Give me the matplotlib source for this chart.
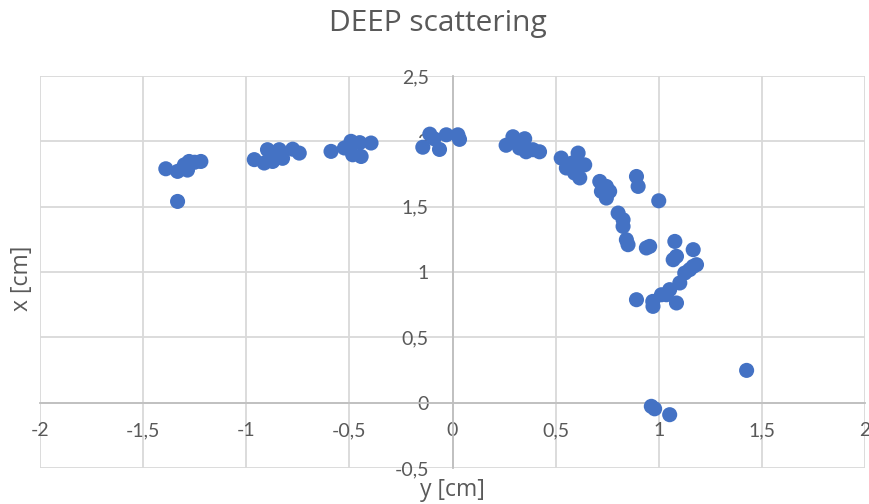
import matplotlib
matplotlib.use('Agg')
import matplotlib.pyplot as plt
from matplotlib.ticker import FuncFormatter, MultipleLocator

plt.rcParams['font.family'] = ['Lato', 'DejaVu Sans']

# y [cm] (horizontal) and x [cm] (vertical) of every hit
y_cm = [-1.39, -1.333, -1.285, -1.277, -1.22, -1.30, -1.25, -1.333,
        -0.961, -0.913, -0.872, -0.897, -0.84, -0.775, -0.743, -0.824,
        -0.589, -0.524, -0.492, -0.443, -0.395, -0.484, -0.45,
        -0.144, -0.11, -0.063, -0.03, 0.026, 0.034, -0.09,
        0.26, 0.293, 0.35, 0.357, 0.422, 0.325, 0.39,
        0.527, 0.609, 0.641, 0.552, 0.592, 0.617, 0.583,
        0.714, 0.746, 0.762, 0.746, 0.722,
        0.892, 0.9, 1.0,
        0.803, 0.827, 0.827, 0.843, 0.851, 0.94, 0.956,
        1.078, 1.167, 1.07, 1.086, 1.167, 1.183, 1.15, 1.126, 1.102,
        1.053, 1.013, 1.037, 1.086, 0.972, 0.971, 0.892,
        1.426, 0.964, 0.98, 1.053]
x_cm = [1.79, 1.77, 1.78, 1.846, 1.846, 1.82, 1.84, 1.54,
        1.86, 1.834, 1.846, 1.936, 1.936, 1.94, 1.91, 1.87,
        1.923, 1.949, 2.0, 1.884, 1.987, 1.897, 1.99,
        1.955, 2.055, 1.938, 2.05, 2.05, 2.015, 2.02,
        1.97, 2.035, 2.02, 1.92, 1.92, 1.949, 1.936,
        1.872, 1.91, 1.82, 1.796, 1.757, 1.72, 1.836,
        1.693, 1.655, 1.617, 1.566, 1.617,
        1.731, 1.655, 1.545,
        1.451, 1.40, 1.349, 1.247, 1.209, 1.184, 1.196,
        1.234, 1.171, 1.094, 1.12, 1.043, 1.056, 1.018, 0.992, 0.916,
        0.865, 0.826, 0.826, 0.763, 0.737, 0.775, 0.788,
        0.247, -0.028, -0.047, -0.092]

xlim = (-2, 2)
ylim = (-0.5, 2.5)

grey_txt = '#595959'

fig = plt.figure(figsize=(8.69, 5.04), dpi=100)
ax = fig.add_axes([40 / 869, 36 / 504, 825 / 869, 392 / 504])

ax.scatter(y_cm, x_cm, s=118, color='#4472C4', edgecolors='none', zorder=3)

ax.set_xlim(xlim)
ax.set_ylim(ylim)
ax.xaxis.set_major_locator(MultipleLocator(0.5))
ax.yaxis.set_major_locator(MultipleLocator(0.5))

comma = FuncFormatter(lambda v, p: ('%g' % v).replace('.', ','))
ax.xaxis.set_major_formatter(comma)
ax.yaxis.set_major_formatter(comma)

ax.grid(True, color='#d9d9d9', linewidth=1.3, zorder=0)
ax.set_axisbelow(True)

for s in ['top', 'right']:
    ax.spines[s].set_visible(False)
ax.spines['left'].set_position(('data', 0))
ax.spines['bottom'].set_position(('data', 0))
ax.spines['left'].set_color('#bfbfbf')
ax.spines['bottom'].set_color('#bfbfbf')
ax.spines['left'].set_linewidth(1.3)
ax.spines['bottom'].set_linewidth(1.3)
ax.spines['left'].set_zorder(1)
ax.spines['bottom'].set_zorder(1)

ax.tick_params(axis='both', length=0, labelsize=14, labelcolor=grey_txt)
ax.tick_params(axis='y', pad=17)
ax.tick_params(axis='x', pad=14)

fig.text(438 / 869, 1 - 24 / 504, 'DEEP scattering', ha='center', va='center',
         fontsize=21.5, color=grey_txt, family=['Open Sans', 'DejaVu Sans'])
fig.text(452 / 869, 1 - 490 / 504, 'y [cm]', ha='center', va='center',
         fontsize=16.5, color=grey_txt, family=['Open Sans', 'DejaVu Sans'])
fig.text(22 / 869, 1 - 278 / 504, 'x [cm]', ha='center', va='center',
         fontsize=16.5, color=grey_txt, rotation=90,
         family=['Open Sans', 'DejaVu Sans'])

fig.savefig('out.png', dpi=100)
